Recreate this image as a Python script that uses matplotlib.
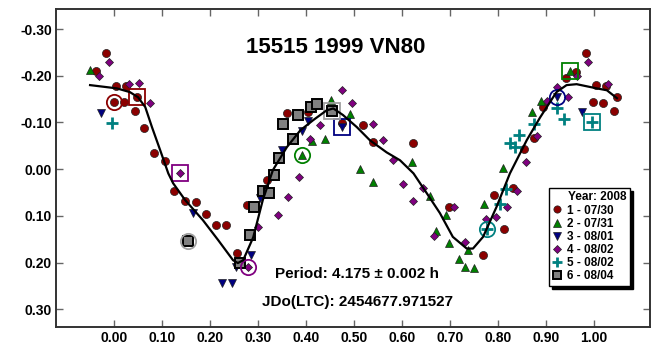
import matplotlib
matplotlib.use('Agg')
import matplotlib.pyplot as plt

plt.rcParams['font.family'] = ['Liberation Sans', 'DejaVu Sans']
plt.rcParams['font.weight'] = 'bold'

# session data (phase, reduced magnitude)
s1_phase = [-0.037, -0.017, 0.0, 0.004, 0.021, 0.025, 0.044, 0.048, 0.063, 0.083, 0.106, 0.125, 0.148,
	0.171, 0.192, 0.212, 0.233, 0.256, 0.277, 0.319, 0.36, 0.404, 0.475, 0.519, 0.54, 0.623, 0.698,
	0.769, 0.792, 0.813, 0.831, 0.854, 0.875, 0.894, 0.942, 0.962, 0.983, 0.998, 1.004, 1.019, 1.025,
	1.042, 1.048]
s1_mag = [-0.21, -0.248, -0.143, -0.178, -0.143, -0.178, -0.124, -0.154, -0.088, -0.034, -0.017, 0.047, 0.068,
	0.07, 0.096, 0.12, 0.12, 0.18, 0.077, 0.024, -0.12, -0.122, -0.098, -0.094, -0.058, -0.056, 0.081,
	0.184, 0.056, 0.128, 0.04, -0.043, -0.066, -0.133, -0.195, -0.208, -0.248, -0.143, -0.18, -0.141, -0.178,
	-0.124, -0.154]

s2_phase = [-0.05, 0.392, 0.413, 0.44, 0.452, 0.492, 0.512, 0.54, 0.621, 0.658, 0.671, 0.692, 0.698,
	0.719, 0.731, 0.738, 0.75, 0.771, 0.81, 0.871, 0.89, 0.95]
s2_mag = [-0.212, -0.03, -0.06, -0.064, -0.148, -0.118, 0.0, 0.028, -0.015, 0.058, 0.132, 0.098, 0.158,
	0.193, 0.21, 0.173, 0.212, 0.075, -0.002, -0.122, -0.146, -0.21]

s3_phase = [-0.027, 0.165, 0.225, 0.246, 0.254, 0.285, 0.304, 0.35, 0.392, 0.404, 0.475, 0.923, 0.975]
s3_mag = [-0.12, 0.094, 0.244, 0.244, 0.21, 0.184, 0.062, -0.041, -0.081, -0.103, -0.09, -0.154, -0.122]

s4_phase = [-0.031, -0.01, 0.031, 0.052, 0.075, 0.138, 0.279, 0.3, 0.342, 0.363, 0.386, 0.408, 0.429,
	0.475, 0.496, 0.54, 0.56, 0.581, 0.602, 0.623, 0.644, 0.667, 0.708, 0.731, 0.775, 0.796, 0.819,
	0.84, 0.858, 0.881, 0.902, 0.923, 0.946, 0.965, 0.988, 1.029]
s4_mag = [-0.2, -0.229, -0.182, -0.184, -0.141, 0.008, 0.21, 0.124, 0.098, 0.06, 0.017, -0.064, -0.094,
	-0.169, -0.141, -0.096, -0.062, -0.019, 0.032, 0.068, 0.041, 0.143, 0.081, 0.156, 0.107, 0.103, 0.081,
	0.047, -0.015, -0.071, -0.146, -0.176, -0.154, -0.2, -0.229, -0.182]

s5_phase = [-0.004, 0.777, 0.804, 0.817, 0.825, 0.835, 0.844, 0.875, 0.923, 0.938, 0.996]
s5_mag = [-0.099, 0.128, 0.075, 0.043, -0.056, -0.047, -0.073, -0.096, -0.13, -0.107, -0.1]

s6_phase = [0.154, 0.262, 0.283, 0.292, 0.31, 0.323, 0.333, 0.344, 0.352, 0.373, 0.383, 0.41, 0.423, 0.454]
s6_mag = [0.154, 0.2, 0.141, 0.082, 0.047, 0.051, 0.013, -0.024, -0.096, -0.064, -0.116, -0.133, -0.139, -0.124]

# first (circled) and last (boxed) point of each session
start_phase = [0.0, 0.392, 0.923, 0.279, 0.777, 0.154]
start_mag = [-0.143, -0.03, -0.154, 0.21, 0.128, 0.154]
end_phase = [0.048, 0.95, 0.475, 0.138, 0.996, 0.454]
end_mag = [-0.154, -0.21, -0.09, 0.008, -0.1, -0.124]

# fourier fit curve
fit_phase = [-0.05, 0.006, 0.033, 0.05, 0.065, 0.079, 0.096, 0.113, 0.123, 0.148, 0.185, 0.217, 0.248,
	0.258, 0.269, 0.29, 0.31, 0.331, 0.36, 0.388, 0.415, 0.443, 0.457, 0.477, 0.506, 0.533, 0.568,
	0.596, 0.624, 0.652, 0.679, 0.706, 0.735, 0.748, 0.769, 0.797, 0.825, 0.86, 0.888, 0.915, 0.922,
	0.943, 0.964, 1.006, 1.027, 1.048]
fit_mag = [-0.18, -0.173, -0.165, -0.154, -0.133, -0.09, -0.041, 0.009, 0.03, 0.066, 0.109, 0.152, 0.195,
	0.201, 0.195, 0.146, 0.066, 0.002, -0.047, -0.083, -0.105, -0.126, -0.13, -0.116, -0.09, -0.062, -0.036,
	-0.019, 0.009, 0.052, 0.094, 0.145, 0.17, 0.17, 0.145, 0.081, 0.009, -0.062, -0.111, -0.154, -0.165,
	-0.18, -0.182, -0.173, -0.169, -0.152]

labels = ['1 - 07/30', '2 - 07/31', '3 - 08/01', '4 - 08/02', '5 - 08/02', '6 - 08/04']
x_ticks = [0.0, 0.1, 0.2, 0.3, 0.4, 0.5, 0.6, 0.7, 0.8, 0.9, 1.0]
y_ticks = [-0.3, -0.2, -0.1, 0.0, 0.1, 0.2, 0.3]

phases = [s1_phase, s2_phase, s3_phase, s4_phase, s5_phase, s6_phase]
mags = [s1_mag, s2_mag, s3_mag, s4_mag, s5_mag, s6_mag]
colors = ['#8b0000', '#008000', '#000080', '#800080', '#008080', '#808080']
markers = ['o', '^', 'v', 'D', '+', 's']
sizes = [5.8, 6, 6, 4.5, 8, 6.8]
ring_colors = ['#8b0000', '#008000', '#000080', '#800080', '#008080', '#a0a0a0']


fig = plt.figure(figsize=(6.52, 3.46), dpi=100)
ax = fig.add_axes([0.0859, 0.0549, 0.9111, 0.9191])

for i in range(6):
	edge = '#202020'
	mew = 0.5
	if markers[i] == '+':
		edge = colors[i]
		mew = 2
	elif markers[i] == 's':
		edge = 'black'
		mew = 1.4
	ax.plot(phases[i], mags[i], linestyle='none', marker=markers[i], markersize=sizes[i],
		markerfacecolor=colors[i], markeredgecolor=edge, markeredgewidth=mew,
		label=labels[i], zorder=3)

for i in range(6):
	ax.plot(start_phase[i], start_mag[i], linestyle='none', marker='o', markersize=11,
		markerfacecolor='none', markeredgecolor=ring_colors[i], markeredgewidth=1.3, zorder=4)
	ax.plot(end_phase[i], end_mag[i], linestyle='none', marker='s', markersize=11,
		markerfacecolor='none', markeredgecolor=ring_colors[i], markeredgewidth=1.3, zorder=4)

ax.plot(fit_phase, fit_mag, color='black', linewidth=1.6, zorder=5)

ax.set_xlim(-0.121, 1.117)
ax.set_ylim(0.338, -0.343)
ax.set_xticks(x_ticks)
ax.set_xticklabels(['%.2f' % v for v in x_ticks])
ax.set_yticks(y_ticks)
ax.set_yticklabels(['%.2f' % v for v in y_ticks])
ax.tick_params(direction='in', length=5, width=1, color='#666666', top=True, right=True,
	labelsize=10, labelcolor='black')
ax.tick_params(axis='x', pad=3)
ax.tick_params(axis='y', pad=3)
for sp in ax.spines.values():
	sp.set_linewidth(1.4)
	sp.set_color('#333333')

ax.text(0.4625, -0.261, '15515 1999 VN80', fontsize=16, fontweight='bold', ha='center', va='center')
ax.text(0.507, 0.2248, 'Period: 4.175 \u00b1 0.002 h', fontsize=11, fontweight='bold',
	ha='center', va='center', zorder=6)
ax.text(0.507, 0.285, 'JDo(LTC): 2454677.971527', fontsize=11, fontweight='bold',
	ha='center', va='center', zorder=6)

leg = ax.legend(loc='lower left', bbox_to_anchor=(0.830, 0.129, 0.136, 0.3), mode='expand',
	borderaxespad=0, title='Year: 2008', fontsize=8.5, title_fontsize=8.5, frameon=True,
	fancybox=False, shadow={'color': 'black', 'alpha': 1}, edgecolor='black', labelspacing=0.1,
	handlelength=0.8, handletextpad=0.4, borderpad=0.3, markerscale=0.9, alignment='right')
leg.get_frame().set_linewidth(1)
leg.get_title().set_fontweight('bold')
for t in leg.get_texts():
	t.set_fontweight('bold')
leg.set_zorder(10)

fig.savefig('out.png', dpi=100)
